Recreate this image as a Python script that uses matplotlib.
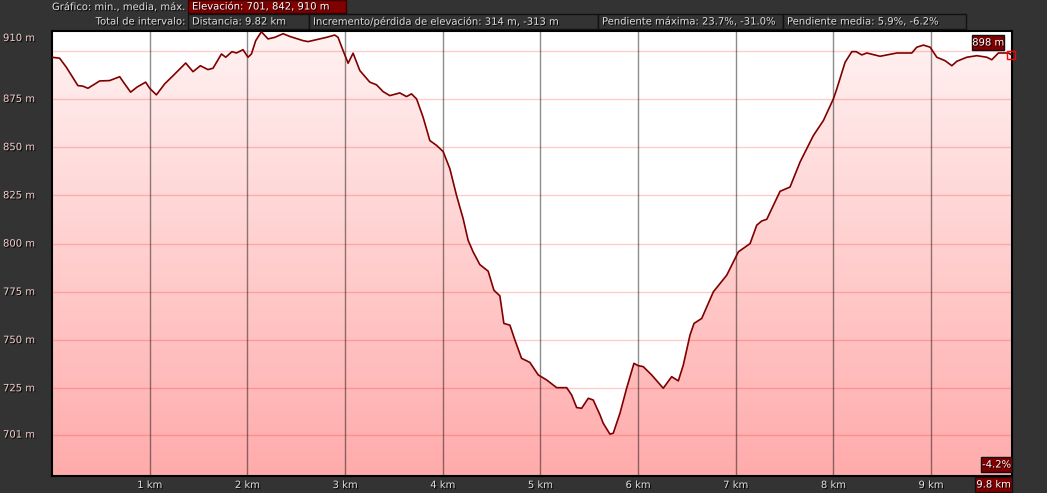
import numpy as np
import matplotlib
matplotlib.use("Agg")
import matplotlib.pyplot as plt
from matplotlib.patches import Rectangle, Polygon
import matplotlib.patheffects as pe

plt.rcParams["font.family"] = "DejaVu Sans"

# perfil de elevación (km, m)
dist_km = [0.00, 0.078, 0.147, 0.265, 0.317, 0.368, 0.488, 0.590, 0.693, 0.744,
           0.805, 0.870, 0.959, 1.000, 1.069, 1.154, 1.257, 1.369, 1.444, 1.519,
           1.597, 1.649, 1.735, 1.779, 1.843, 1.888, 1.956, 2.007, 2.042, 2.086,
           2.144, 2.212, 2.281, 2.366, 2.434, 2.571, 2.622, 2.810, 2.895, 2.929,
           2.981, 3.032, 3.083, 3.152, 3.254, 3.323, 3.390, 3.459, 3.561, 3.630,
           3.681, 3.733, 3.800, 3.869, 3.938, 4.005, 4.074, 4.142, 4.210, 4.261,
           4.312, 4.381, 4.466, 4.525, 4.586, 4.627, 4.689, 4.740, 4.808, 4.893,
           4.979, 5.065, 5.167, 5.270, 5.321, 5.372, 5.423, 5.491, 5.542, 5.611,
           5.644, 5.713, 5.747, 5.816, 5.884, 5.959, 6.003, 6.054, 6.140, 6.259,
           6.345, 6.413, 6.464, 6.533, 6.574, 6.653, 6.772, 6.909, 7.028, 7.148,
           7.216, 7.267, 7.319, 7.455, 7.557, 7.660, 7.796, 7.899, 8.001, 8.036,
           8.121, 8.190, 8.234, 8.292, 8.343, 8.479, 8.651, 8.804, 8.855, 8.923,
           8.992, 9.060, 9.145, 9.214, 9.265, 9.368, 9.470, 9.572, 9.623, 9.691,
           9.794, 9.820]
elev_m = [896.6, 896.1, 891.4, 881.9, 881.6, 880.5, 884.3, 884.5, 886.5, 882.8,
          878.5, 881.1, 883.7, 880.5, 877.1, 882.8, 887.9, 893.6, 889.1, 892.2,
          890.2, 890.9, 898.3, 896.6, 899.5, 898.8, 900.5, 896.6, 898.3, 905.2,
          909.8, 906.1, 906.9, 908.8, 907.4, 905.2, 904.7, 906.9, 908.1, 906.9,
          900.0, 893.5, 898.7, 889.7, 883.7, 882.3, 878.8, 876.7, 878.1, 876.2,
          877.6, 875.0, 865.5, 853.4, 850.9, 847.7, 838.8, 825.0, 812.9, 801.7,
          795.7, 789.1, 785.7, 775.8, 772.9, 758.6, 757.7, 750.0, 740.5, 738.4,
          731.9, 729.3, 725.3, 725.3, 721.5, 715.0, 714.6, 719.8, 718.9, 711.2,
          706.9, 701.2, 701.7, 712.1, 725.0, 737.9, 736.7, 736.2, 731.9, 725.0,
          731.0, 728.8, 737.0, 752.6, 758.6, 761.2, 775.0, 783.6, 795.7, 800.0,
          809.5, 811.7, 812.6, 827.1, 829.3, 842.3, 856.0, 863.8, 875.0, 880.2,
          894.0, 899.5, 899.5, 897.8, 898.8, 897.1, 898.8, 898.8, 901.8, 902.9,
          901.8, 896.6, 894.8, 892.2, 894.5, 896.6, 897.4, 896.6, 895.3, 898.8,
          898.8, 898.0]

y_ticks = [701, 725, 750, 775, 800, 825, 850, 875]
x_ticks = [1, 2, 3, 4, 5, 6, 7, 8, 9]

header_row1 = ("Gráfico: min., media, máx.", "Elevación: 701, 842, 910 m")
header_row2_label = "Total de intervalo:"
header_row2 = ["Distancia: 9.82 km",
               "Incremento/pérdida de elevación: 314 m, -313 m",
               "Pendiente máxima: 23.7%, -31.0%",
               "Pendiente media: 5.9%, -6.2%"]
box_edges = [188, 309, 598, 783, 966]

W, H = 1047, 493
BG = "#333333"
DARKRED = "#800000"

fig = plt.figure(figsize=(W / 100, H / 100), dpi=100)
fig.patch.set_facecolor(BG)

ax = fig.add_axes([52 / W, 17 / H, 960 / W, 445 / H])
x0, x1 = 0, 9.83
y0, y1 = 679.5, 910.2
ax.set_xlim(x0, x1)
ax.set_ylim(y0, y1)
ax.set_facecolor("white")
for s in ax.spines.values():
    s.set_color("black")
    s.set_linewidth(1.5)

# relleno con degradado bajo la curva
grad = np.linspace(0, 1, 256).reshape(-1, 1)
top_c = np.array([1.0, 0.95, 0.95])
bot_c = np.array([1.0, 0.67, 0.67])
img = (top_c * (1 - grad[:, :, None]) + bot_c * grad[:, :, None])
im = ax.imshow(img, extent=[x0, x1, y0, y1], aspect="auto", origin="upper", zorder=1)
verts = np.column_stack([dist_km, elev_m])
verts = np.vstack([[dist_km[0], y0], verts, [dist_km[-1], y0]])
poly = Polygon(verts, closed=True, facecolor="none", edgecolor="none")
ax.add_patch(poly)
im.set_clip_path(poly)

# rejilla
for yv in y_ticks + [900]:
    ax.axhline(yv, color=(1, 0, 0), alpha=0.2, lw=1.0, zorder=2)
for xv in x_ticks:
    ax.axvline(xv, color="black", alpha=0.45, lw=1.0, zorder=2)

ax.plot(dist_km, elev_m, color=DARKRED, lw=1.2, zorder=3)
ax.plot([dist_km[-1]], [elev_m[-1]], marker="s", ms=6, mfc="none", mec="red",
        mew=1.0, zorder=4, clip_on=False)

ax.set_xticks([])
ax.set_yticks([])

shadow = [pe.withSimplePatchShadow(offset=(0.8, -0.8), shadow_rgbFace="black", alpha=0.9)]


def px(x, y):
    return x / W, 1 - y / H


# etiquetas eje Y
for yv in y_ticks:
    ypix = 31 + (y1 - yv) / (y1 - y0) * 445
    fig.text(*px(3, ypix), f"{yv} m", ha="left", va="center", fontsize=7.2,
             color="#f2cccc", path_effects=shadow)
fig.text(*px(3, 38), "910 m", ha="left", va="center", fontsize=7.2,
         color="#f2cccc", path_effects=shadow)

# etiquetas eje X
for xv in x_ticks:
    xpix = 52 + xv / (x1 - x0) * 960
    fig.text(*px(xpix, 485), f"{xv} km", ha="center", va="center", fontsize=7.2,
             color="#dddddd", path_effects=shadow)


def box(xl, yt, w, h, face, edge, text, ha="left", pad=4, color="white"):
    r = Rectangle(px(xl, yt + h), w / W, h / H, transform=fig.transFigure,
                  facecolor=face, edgecolor=edge, lw=1.0)
    fig.add_artist(r)
    tx = xl + pad if ha == "left" else xl + w / 2
    fig.text(*px(tx, yt + h / 2), text, ha=ha, va="center", fontsize=7.2,
             color=color, path_effects=shadow)


# cabecera
fig.text(*px(185, 7), header_row1[0], ha="right", va="center", fontsize=7.2,
         color="#dddddd", path_effects=shadow)
box(188, 0, 158, 13, DARKRED, "#3a0000", header_row1[1])
fig.text(*px(185, 21.5), header_row2_label, ha="right", va="center", fontsize=7.2,
         color="#dddddd", path_effects=shadow)
for i, t in enumerate(header_row2):
    box(box_edges[i], 14, box_edges[i + 1] - box_edges[i], 15, BG, "#111111", t,
        color="#dddddd")

# etiquetas finales
box(972, 35, 32, 15, DARKRED, "#111111", "898 m", ha="center")
box(981, 457, 31, 15, DARKRED, "#111111", "-4.2%", ha="center")
box(975, 477, 37, 15, DARKRED, "#111111", "9.8 km", ha="center")

fig.savefig("out.png", dpi=100, facecolor=BG)
